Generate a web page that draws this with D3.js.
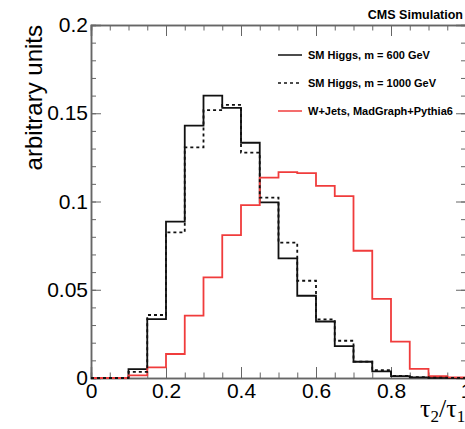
<!DOCTYPE html>
<html>
<head>
<meta charset="utf-8">
<script src="https://cdn.jsdelivr.net/npm/d3@7"></script>
<style>
  body { margin: 0; background: #fff; }
  svg { display: block; }
  .axis path, .axis line { stroke: #666; }
  .axis text { font-family: "Liberation Sans", Arial, sans-serif; font-size: 21px; fill: #000; }
</style>
</head>
<body>
<svg id="chart" width="465" height="429"></svg>
<script>
// bin lower edges (tau2/tau1), bin width 0.05
const binEdges = [0, 0.05, 0.1, 0.15, 0.2, 0.25, 0.3, 0.35, 0.4, 0.45,
                  0.5, 0.55, 0.6, 0.65, 0.7, 0.75, 0.8, 0.85, 0.9, 0.95, 1];

const higgs600 = [0, 0, 0.005, 0.0334, 0.0886, 0.143, 0.160, 0.153, 0.1333, 0.0995,
                  0.0678, 0.0466, 0.032, 0.0181, 0.0092, 0.0038, 0.0011, 0.0004, 0.0001, 0];
const higgs1000 = [0, 0, 0.0035, 0.0357, 0.0825, 0.1307, 0.1518, 0.1547, 0.1277, 0.1022,
                   0.0767, 0.0551, 0.0332, 0.0211, 0.0093, 0.0045, 0.0012, 0.0005, 0.0002, 0.0001];
const wjets = [0, 0, 0.0015, 0.006, 0.0136, 0.0353, 0.057, 0.081, 0.098, 0.1135,
               0.1167, 0.1161, 0.1088, 0.1031, 0.0721, 0.0448, 0.0206, 0.0052, 0.001, 0.0003];

const xTickLabels = [0, 0.2, 0.4, 0.6, 0.8, 1];
const yTickLabels = [0, 0.05, 0.1, 0.15, 0.2];

const seriesNames = ['SM Higgs, m = 600 GeV', 'SM Higgs, m = 1000 GeV', 'W+Jets, MadGraph+Pythia6'];

const svg = d3.select('#chart');
const padLeft = 91, padRight = 466, padTop = 25, padBottom = 378;

const x = d3.scaleLinear().domain([0, 1]).range([padLeft, padRight]);
const y = d3.scaleLinear().domain([0, 0.2]).range([padBottom, padTop]);

const xMinor = d3.range(0, 1.0001, 0.05);
const yMinor = d3.range(0, 0.2001, 0.01);

// frame + ticks (ticks point inward like ROOT)
function drawAxis(axis, transform) {
    const g = svg.append('g').attr('class', 'axis').attr('transform', transform).call(axis);
    g.select('.domain').attr('stroke-width', 1.5);
    return g;
}

drawAxis(d3.axisBottom(x).tickValues(xMinor).tickSize(-5.5).tickFormat(''), `translate(0,${padBottom})`);
drawAxis(d3.axisBottom(x).tickValues(xTickLabels).tickSize(-11).tickPadding(5).tickFormat(d => String(d)),
    `translate(0,${padBottom})`);
drawAxis(d3.axisTop(x).tickValues(xMinor).tickSize(-5.5).tickFormat(''), `translate(0,${padTop})`);
drawAxis(d3.axisTop(x).tickValues(xTickLabels).tickSize(-11).tickFormat(''), `translate(0,${padTop})`);

drawAxis(d3.axisLeft(y).tickValues(yMinor).tickSize(-5).tickFormat(''), `translate(${padLeft},0)`);
drawAxis(d3.axisLeft(y).tickValues(yTickLabels).tickSize(-10).tickPadding(3).tickFormat(d => String(d)),
    `translate(${padLeft},0)`);
drawAxis(d3.axisRight(y).tickValues(yMinor).tickSize(-5).tickFormat(''), `translate(${padRight},0)`);
drawAxis(d3.axisRight(y).tickValues(yTickLabels).tickSize(-10).tickFormat(''), `translate(${padRight},0)`);

svg.selectAll('.axis .tick line').attr('stroke-width', 1);

// histograms as step lines
function histPoints(values) {
    const pts = values.map((v, i) => [binEdges[i], v]);
    pts.push([binEdges[binEdges.length - 1], values[values.length - 1]]);
    return pts;
}

const step = d3.line()
    .x(d => x(d[0]))
    .y(d => y(d[1]))
    .curve(d3.curveStepAfter);

svg.append('path')
    .attr('d', step(histPoints(higgs600)))
    .attr('fill', 'none')
    .attr('stroke', '#111')
    .attr('stroke-width', 1.8);

svg.append('path')
    .attr('d', step(histPoints(wjets)))
    .attr('fill', 'none')
    .attr('stroke', '#f03c3c')
    .attr('stroke-width', 1.8);

svg.append('path')
    .attr('d', step(histPoints(higgs1000)))
    .attr('fill', 'none')
    .attr('stroke', '#111')
    .attr('stroke-width', 1.8)
    .attr('stroke-dasharray', '3,3');

// legend
const legendStyles = [
    { stroke: '#111', dash: null },
    { stroke: '#111', dash: '3,3' },
    { stroke: '#f03c3c', dash: null }
];
const legend = svg.append('g');
seriesNames.forEach((name, i) => {
    const ly = 55 + i * 28;
    legend.append('line')
        .attr('x1', 278).attr('x2', 302)
        .attr('y1', ly).attr('y2', ly)
        .attr('stroke', legendStyles[i].stroke)
        .attr('stroke-width', 1.5)
        .attr('stroke-dasharray', legendStyles[i].dash);
    legend.append('text')
        .attr('x', 308).attr('y', ly)
        .attr('dy', '0.35em')
        .style('font-family', '"Liberation Sans", Arial, sans-serif')
        .style('font-size', '11px')
        .style('font-weight', 'bold')
        .text(name);
});

// titles
svg.append('text')
    .attr('x', 463).attr('y', 19)
    .attr('text-anchor', 'end')
    .style('font-family', '"Liberation Sans", Arial, sans-serif')
    .style('font-size', '12.5px')
    .style('font-weight', 'bold')
    .text('CMS Simulation');

svg.append('text')
    .attr('transform', 'translate(42,25) rotate(-90)')
    .attr('text-anchor', 'end')
    .style('font-family', '"Liberation Sans", Arial, sans-serif')
    .style('font-size', '24px')
    .text('arbitrary units');

const xt = svg.append('text')
    .attr('x', 420).attr('y', 417)
    .style('font-family', '"Liberation Serif", "Times New Roman", serif')
    .style('font-size', '26px');
xt.append('tspan').text('τ');
xt.append('tspan').attr('dy', 5).style('font-size', '17px').text('2');
xt.append('tspan').attr('dy', -5).text('/τ');
xt.append('tspan').attr('dy', 5).style('font-size', '17px').text('1');
</script>
</body>
</html>
